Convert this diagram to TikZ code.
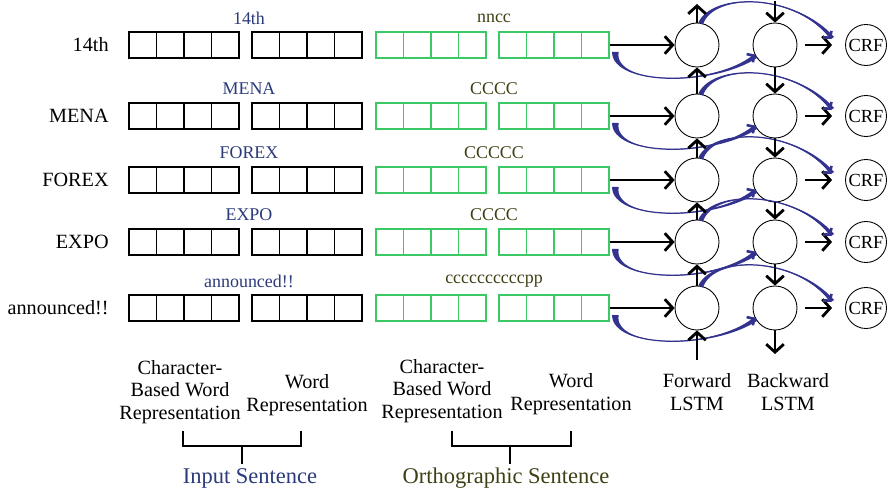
\documentclass[tikz,border=0pt]{standalone}
\usepackage{fontspec}
\setmainfont{Liberation Serif}
\usetikzlibrary{arrows.meta}

\begin{document}
\begin{tikzpicture}[x=0.02cm,y=-0.02cm,
    cellbox/.style={draw,line width=0.9pt,minimum width=0.55cm,minimum height=0.52cm,inner sep=0pt},
    orthcell/.style={cellbox,draw=orthgreen,line width=0.75pt},
    lstmnode/.style={draw,circle,line width=0.5pt,minimum size=0.88cm,inner sep=0pt},
    crfnode/.style={draw,circle,line width=0.5pt,minimum size=0.82cm,inner sep=0pt,font=\fontsize{10.5}{12}\selectfont},
    wordlabel/.style={inner sep=0pt,font=\fontsize{11.5}{13}\selectfont},
    toplabel/.style={inner sep=0pt,font=\fontsize{10.2}{12}\selectfont},
    replabel/.style={align=center,inner sep=0pt,font=\fontsize{11.5}{12.8}\selectfont},
    sentlabel/.style={inner sep=2pt,font=\fontsize{12.8}{14}\selectfont},
    barb/.style={line width=0.6pt,-{Straight Barb[length=4.5pt,width=10pt,line width=1.6pt]}},
    arcline/.style={arcblue,line width=0.7pt,-{Straight Barb[length=2.5pt,width=6pt,line width=1.5pt]}},
    bracket/.style={line width=0.6pt}]
		\definecolor{wordblue}{HTML}{2B3A7A}
		\definecolor{orthtext}{HTML}{3F3F14}
		\definecolor{orthgreen}{HTML}{3CC864}
		\definecolor{arcblue}{HTML}{33338F}
		\useasboundingbox (0,0) rectangle (888,493);
		% rows
		\foreach \r/\y/\word/\orth in {1/45/14th/nncc,2/116/MENA/CCCC,3/180/FOREX/CCCCC,4/242/EXPO/CCCC,5/308/announced!!/ccccccccccpp}{
			\node[wordlabel,anchor=east] (w\r) at (109,\y) {\word};
			\node[toplabel,text=wordblue] (lw\r) at (249,\y-27) {\word};
			\node[toplabel,text=orthtext] (lo\r) at (494,\y-27) {\orth};
			% cells
			\foreach \k in {0,...,3}{
				\node[cellbox] (a\r\k) at (142.75+27.5*\k,\y) {};
				\node[cellbox] (b\r\k) at (265.75+27.5*\k,\y) {};
				\node[orthcell] (c\r\k) at (389.75+27.5*\k,\y) {};
				\node[orthcell] (d\r\k) at (512.75+27.5*\k,\y) {};
			}
			% lstm + crf
			\node[lstmnode] (fw\r) at (697,\y) {};
			\node[lstmnode] (bw\r) at (775,\y) {};
			\node[crfnode] (crf\r) at (866,\y) {CRF};
			\draw[barb] (d\r3.east) -- (fw\r.west);
			\draw[barb,shorten <=0.16cm,shorten >=0.26cm] (bw\r.east) -- (crf\r.west);
			% blue arcs
			\coordinate (as\r) at ([xshift=0.06cm,yshift=-0.14cm]d\r3.east);
			\coordinate (ast\r) at ([xshift=0.18cm,yshift=-0.14cm]d\r3.east);
			\fill[arcblue] (as\r) .. controls +(0,33) and +(-42,33) .. (bw\r.205) -- ++(3,3) .. controls +(-45,30) and +(-6,33) .. (ast\r) -- cycle;
			\draw[arcline] (as\r) .. controls +(0,33) and +(-42,33) .. (bw\r.205);
			\coordinate (bs\r) at ([xshift=0.08cm,yshift=-0.04cm]fw\r.85);
			\coordinate (be\r) at ([xshift=-0.28cm,yshift=0.12cm]crf\r.west);
			\fill[arcblue] (fw\r.85) .. controls +(14,-30) and +(-36,-46) .. (be\r) -- ++(3,-2) .. controls +(-39,-44) and +(10,-32) .. (bs\r) -- cycle;
			\draw[arcline] (fw\r.85) .. controls +(14,-30) and +(-36,-46) .. (be\r);
		}
		% vertical lstm links
		\foreach \r in {1,...,4}{
			\pgfmathtruncatemacro{\s}{\r+1}
			\draw[barb] (fw\s.north) -- (fw\r.south);
			\draw[barb] (bw\r.south) -- (bw\s.north);
		}
		\coordinate (fwtop) at (697,4);
		\coordinate (fwbot) at (697,360);
		\coordinate (bwtop) at (775,1);
		\coordinate (bwbot) at (775,354);
		\draw[barb] (fw1.north) -- (fwtop);
		\draw[barb] (fwbot) -- (fw5.south);
		\draw[barb] (bwtop) -- (bw1.north);
		\draw[barb] (bw5.south) -- (bwbot);
		% labels
		\node[replabel] (cbwIn) at (180,392) {Character-\\Based Word\\Representation};
		\node[replabel] (wrIn) at (307,395) {Word\\Representation};
		\node[replabel] (cbwOr) at (442,391) {Character-\\Based Word\\Representation};
		\node[replabel] (wrOr) at (571,394) {Word\\Representation};
		\node[replabel] (fwLabel) at (697,392) {Forward\\LSTM};
		\node[replabel] (bwLabel) at (788,392) {Backward\\LSTM};
		\node[sentlabel,text=wordblue] (inTitle) at (250,478) {Input Sentence};
		\node[sentlabel,text=orthtext] (orTitle) at (506,478) {Orthographic Sentence};
		% brackets
		\coordinate (brIn) at (242,446);
		\coordinate (brOr) at (510,446);
		\draw[bracket] (183,431) |- (brIn) -| (301,431);
		\draw[bracket] (brIn) -- (brIn |- inTitle.north);
		\draw[bracket] (452,431) |- (brOr) -| (571,431);
		\draw[bracket] (brOr) -- (brOr |- orTitle.north);
\end{tikzpicture}
\end{document}
